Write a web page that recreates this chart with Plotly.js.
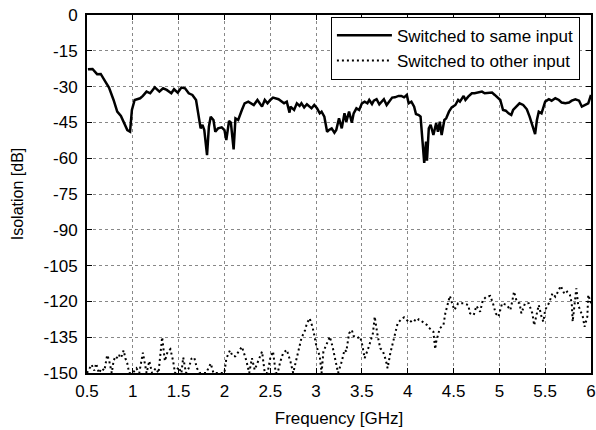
<!DOCTYPE html>
<html>
<head>
<meta charset="utf-8">
<script src="https://cdn.plot.ly/plotly-3.0.1.min.js"></script>
<style>html,body{margin:0;padding:0;background:#fff;}#chart{width:596px;height:430px;}</style>
</head>
<body>
<div id="chart"></div>
<script>
const sameFreq = [0.51,0.56,0.61,0.65,0.70,0.74,0.79,0.83,0.87,0.91,0.94,0.97,0.99,1.02,1.08,1.11,1.15,1.19,1.24,1.29,1.33,1.37,1.42,1.45,1.49,1.53,1.57,1.61,1.65,1.69,1.71,1.74,1.76,1.78,1.81,1.83,1.85,1.88,1.90,1.93,1.97,2.00,2.02,2.05,2.07,2.10,2.12,2.15,2.19,2.22,2.26,2.30,2.32,2.36,2.41,2.44,2.47,2.50,2.53,2.59,2.62,2.65,2.68,2.71,2.72,2.76,2.79,2.82,2.84,2.87,2.90,2.93,2.95,2.98,3.01,3.04,3.06,3.09,3.12,3.14,3.17,3.20,3.22,3.25,3.28,3.31,3.33,3.36,3.39,3.41,3.44,3.47,3.50,3.53,3.56,3.58,3.61,3.63,3.66,3.69,3.72,3.74,3.77,3.80,3.83,3.86,3.90,3.93,3.96,3.99,4.01,4.04,4.07,4.09,4.12,4.14,4.16,4.18,4.20,4.21,4.23,4.25,4.28,4.31,4.33,4.35,4.37,4.40,4.42,4.45,4.48,4.52,4.55,4.57,4.61,4.63,4.66,4.70,4.73,4.77,4.81,4.84,4.88,4.92,4.95,4.99,5.01,5.04,5.07,5.10,5.13,5.15,5.19,5.22,5.26,5.30,5.33,5.36,5.39,5.41,5.43,5.46,5.50,5.54,5.57,5.61,5.65,5.68,5.72,5.76,5.79,5.83,5.87,5.90,5.94,5.97,6.00];
const sameIso = [-22.7,-22.6,-24.8,-24.7,-27.9,-30.4,-35.6,-40.5,-42.3,-46,-48.2,-48.9,-39.8,-35.6,-34.9,-33.9,-32.1,-32.8,-30.3,-32.1,-30.7,-31.4,-32.8,-31.1,-32.5,-30.4,-30.7,-32.8,-33.5,-35.6,-41.2,-47.5,-46,-48.2,-58.7,-46.8,-42.6,-44,-48.9,-47.5,-47.1,-48.2,-52.4,-44.4,-45.1,-56.3,-43.3,-44,-39.8,-37,-36.3,-37.2,-37.7,-35.6,-38.4,-35.6,-37,-35.6,-34.6,-35.3,-36.3,-37,-36.3,-40.9,-38.4,-39.8,-37,-38.1,-37,-38.7,-37.4,-38.4,-39.1,-37.7,-39.1,-41.2,-40.5,-42.6,-48.9,-48.2,-47.5,-49.3,-48.2,-43.3,-47.5,-41.2,-44.7,-40.5,-45.1,-41.2,-39.1,-39.8,-37,-36.3,-37,-35.6,-37.3,-35.9,-35.3,-37.4,-36.3,-35.3,-37.7,-36.3,-34.6,-34.5,-33.9,-33.9,-34.5,-33.5,-37,-36.3,-38.4,-41.5,-41.9,-42.6,-51,-62,-53,-61,-47.5,-46,-50.3,-45.4,-48.9,-44.7,-50.3,-44,-43.3,-40.5,-38.7,-37.7,-35.6,-36.3,-33.9,-35.6,-34.2,-32.8,-32.8,-32.5,-32.1,-32.8,-32.5,-32.5,-33.5,-34.9,-35.6,-39.8,-40.1,-41.2,-41.9,-39.8,-38.4,-37,-37.7,-39.5,-42.6,-45.8,-49.9,-44,-40.5,-41.2,-36.3,-35.3,-35.9,-34.9,-35.6,-36.7,-37,-36.7,-35.9,-35.3,-35.9,-38.4,-37.7,-37,-33.5];

const otherFreq = [0.50,0.53,0.55,0.58,0.60,0.63,0.66,0.69,0.72,0.74,0.77,0.79,0.81,0.84,0.86,0.88,0.90,0.92,0.94,0.96,1.00,1.04,1.07,1.11,1.13,1.15,1.18,1.21,1.25,1.28,1.32,1.34,1.35,1.38,1.41,1.44,1.46,1.50,1.53,1.55,1.58,1.61,1.64,1.67,1.70,1.73,1.80,1.85,1.88,2.00,2.02,2.06,2.09,2.12,2.15,2.19,2.22,2.24,2.27,2.30,2.33,2.37,2.41,2.44,2.47,2.50,2.53,2.56,2.58,2.61,2.64,2.68,2.72,2.75,2.79,2.82,2.84,2.88,2.90,2.93,2.96,2.98,3.00,3.04,3.06,3.08,3.11,3.15,3.18,3.21,3.24,3.28,3.31,3.33,3.36,3.39,3.41,3.45,3.48,3.50,3.53,3.57,3.60,3.62,3.64,3.67,3.70,3.73,3.76,3.78,3.81,3.84,3.86,3.89,3.93,3.96,4.02,4.06,4.10,4.12,4.16,4.21,4.24,4.28,4.30,4.31,4.35,4.39,4.41,4.44,4.46,4.49,4.51,4.55,4.61,4.66,4.68,4.72,4.75,4.79,4.82,4.86,4.90,4.93,4.96,4.99,5.01,5.03,5.08,5.12,5.14,5.16,5.19,5.22,5.24,5.28,5.32,5.36,5.38,5.41,5.43,5.46,5.48,5.50,5.54,5.58,5.61,5.64,5.67,5.71,5.74,5.77,5.79,5.80,5.82,5.84,5.86,5.89,5.91,5.93,5.96,5.97,6.00];
const otherIso = [-150,-148,-146.5,-149,-146,-150,-148,-149,-142.5,-144.5,-150,-145,-143,-144,-142,-143,-140.5,-144,-146,-150,-150,-148,-150,-141.5,-146,-150,-145,-150,-148,-150,-135,-141,-145,-141,-140,-145,-150,-147.5,-150,-143.5,-150,-148,-144,-143.5,-148,-150,-150,-146,-150,-150,-144,-140.5,-143,-143,-141.5,-139,-142.5,-145,-150,-143.8,-148.7,-145.2,-141,-150,-150,-143.8,-141,-150,-150,-145.2,-141.7,-140.3,-145.2,-150,-143.8,-139.6,-135.4,-132,-129.2,-127.1,-130.6,-134.1,-138.2,-143.1,-150,-141,-138.2,-134.8,-139,-144.5,-150,-145.2,-140.3,-141,-133.4,-132,-134.5,-135.4,-134.8,-137.5,-143.8,-139.6,-136.2,-133.4,-126.4,-134.1,-139.6,-141,-144.5,-148,-141.7,-136.9,-133.4,-129.2,-127.5,-126.7,-128.9,-127.5,-128.5,-127.5,-128.5,-129.9,-131.3,-132.7,-140,-137,-131.3,-129.9,-125,-120.8,-117.7,-121.5,-123.6,-120.8,-120.8,-121.5,-125,-125.7,-121.9,-124.3,-119.4,-118,-117.7,-120.8,-125,-126.4,-122.9,-120.8,-121.5,-123.6,-120.1,-115.9,-120.1,-120.8,-125,-120.8,-120.8,-125,-130,-125,-121.5,-126.4,-128.5,-123.6,-120.8,-116.6,-118,-115.9,-113.5,-116.9,-115.9,-117.3,-120.8,-128.5,-120.1,-114.5,-121.5,-125,-126.4,-130.6,-126.4,-117.3,-120.8];

const xTicks = [0.5,1,1.5,2,2.5,3,3.5,4,4.5,5,5.5,6];
const xTickText = ['0.5','1','1.5','2','2.5','3','3.5','4','4.5','5','5.5','6'];
const yTicks = [0,-15,-30,-45,-60,-75,-90,-105,-120,-135,-150];
const yTickText = ['0','-15','-30','-45','-60','-75','-90','-105','-120','-135','-150'];

const fontFam = 'Liberation Sans, Arial, sans-serif';
const axisCommon = {
  showline: true, linecolor: '#000', linewidth: 2, mirror: 'ticks',
  ticks: 'inside', ticklen: 5, tickcolor: '#000', tickwidth: 1,
  showgrid: true, gridcolor: '#888', griddash: 'dot', gridwidth: 1,
  zeroline: false, tickfont: {family: fontFam, size: 17, color: '#000'}
};

const data = [
  {x: sameFreq, y: sameIso, type: 'scatter', mode: 'lines', name: 'Switched to same input',
   line: {color: '#000', width: 2.5}},
  {x: otherFreq, y: otherIso, type: 'scatter', mode: 'lines', name: 'Switched to other input',
   line: {color: '#000', width: 2, dash: '2px,3px'}}
];

const layout = {
  width: 596, height: 430,
  margin: {l: 87, r: 5, t: 15, b: 57},
  paper_bgcolor: '#fff', plot_bgcolor: '#fff',
  font: {family: fontFam, size: 17, color: '#000'},
  xaxis: Object.assign({}, axisCommon, {
    range: [0.5, 6], tickmode: 'array', tickvals: xTicks, ticktext: xTickText,
    ticklabelstandoff: 2,
    title: {text: 'Frequency [GHz]', font: {family: fontFam, size: 17, color: '#000'}, standoff: 12}
  }),
  yaxis: Object.assign({}, axisCommon, {
    range: [-150, 0], tickmode: 'array', tickvals: yTicks, ticktext: yTickText,
    ticklabelstandoff: 4,
    title: {text: 'Isolation [dB]', font: {family: fontFam, size: 16, color: '#000'}, standoff: 16}
  }),
  legend: {
    x: 0.978, y: 0.995, xanchor: 'right', yanchor: 'top',
    bgcolor: '#fff', bordercolor: '#000', borderwidth: 1,
    font: {family: fontFam, size: 17, color: '#000'},
    tracegroupgap: 0, itemwidth: 55
  },
  showlegend: true
};

Plotly.newPlot('chart', data, layout, {displayModeBar: false, staticPlot: true});
</script>
</body>
</html>
